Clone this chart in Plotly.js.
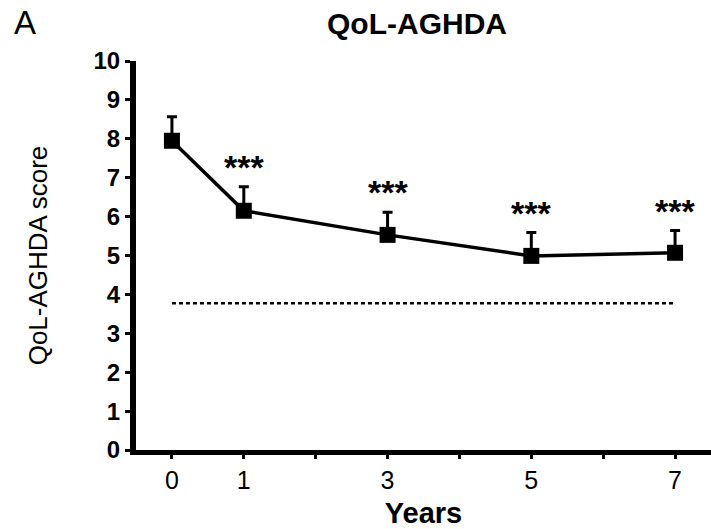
<!DOCTYPE html>
<html>
<head>
<meta charset="utf-8">
<script src="https://cdn.plot.ly/plotly-3.0.1.min.js"></script>
<style>html,body{margin:0;padding:0;background:#fff;}#chart{width:711px;height:529px;}</style>
</head>
<body>
<div id="chart"></div>
<script>
// Data
var years = [0, 1, 3, 5, 7];
var meanScore = [7.95, 6.15, 5.53, 4.99, 5.07];
var errUpper = [0.62, 0.62, 0.58, 0.6, 0.57];
var significance = ['', '***', '***', '***', '***'];
var referenceLevel = 3.77;
var refYears = [0, 7];
var tickYears = [0, 1, 2, 3, 4, 5, 6, 7];
var tickLabels = ['0', '1', '', '3', '', '5', '', '7'];

var FONT = 'Liberation Sans, Arial, sans-serif';

var traces = [
  {
    x: refYears,
    y: refYears.map(function () { return referenceLevel; }),
    mode: 'lines',
    line: {color: '#000', width: 2.5, dash: '4px,3px'},
    hoverinfo: 'skip',
    showlegend: false
  },
  {
    x: years,
    y: meanScore,
    mode: 'lines+markers',
    line: {color: '#000', width: 3.5},
    marker: {symbol: 'square', size: 16, color: '#000'},
    error_y: {
      type: 'data', symmetric: false,
      array: errUpper,
      arrayminus: years.map(function () { return 0; }),
      color: '#000', thickness: 3, width: 5
    },
    showlegend: false
  }
];

var annotations = [];
years.forEach(function (yr, i) {
  if (significance[i]) {
    annotations.push({
      x: yr, y: meanScore[i] + errUpper[i],
      xref: 'x', yref: 'y',
      text: significance[i],
      showarrow: false,
      yanchor: 'bottom',
      yshift: -1,
      font: {family: FONT, size: 34, color: '#000', weight: 'bold'}
    });
  }
});
annotations.push({
  x: 0, y: 1, xref: 'paper', yref: 'paper', xanchor: 'left', yanchor: 'top',
  xshift: -124, yshift: 59,
  text: 'A', showarrow: false,
  font: {family: FONT, size: 33, color: '#000'}
});

var layout = {
  width: 711, height: 529,
  margin: {l: 136, r: 0, t: 61, b: 79},
  paper_bgcolor: '#fff', plot_bgcolor: '#fff',
  title: {
    text: '<b>QoL-AGHDA</b>',
    x: 417 / 711, xanchor: 'center', y: 1 - 23 / 529, yanchor: 'middle',
    font: {family: FONT, size: 30, color: '#000'}
  },
  xaxis: {
    range: [-0.5, 7.5],
    tickvals: tickYears, ticktext: tickLabels,
    showgrid: false, zeroline: false,
    showline: true, linecolor: '#000', linewidth: 5,
    ticks: 'outside', ticklen: 4, tickwidth: 3, tickcolor: '#000',
    tickfont: {family: FONT, size: 25, color: '#000'},
    title: {text: '<b>Years</b>', font: {family: FONT, size: 29, color: '#000'}, standoff: 12}
  },
  yaxis: {
    range: [0, 10],
    tickvals: [0,1,2,3,4,5,6,7,8,9,10],
    showgrid: false, zeroline: false,
    showline: true, linecolor: '#000', linewidth: 6,
    ticks: 'outside', ticklen: 5, tickwidth: 3, tickcolor: '#000',
    tickfont: {family: FONT, size: 24, color: '#000', weight: 'bold'},
    title: {text: 'QoL-AGHDA score', font: {family: FONT, size: 26, color: '#000'}, standoff: 40}
  },
  annotations: annotations
};

Plotly.newPlot('chart', traces, layout, {displayModeBar: false, staticPlot: true});
</script>
</body>
</html>
